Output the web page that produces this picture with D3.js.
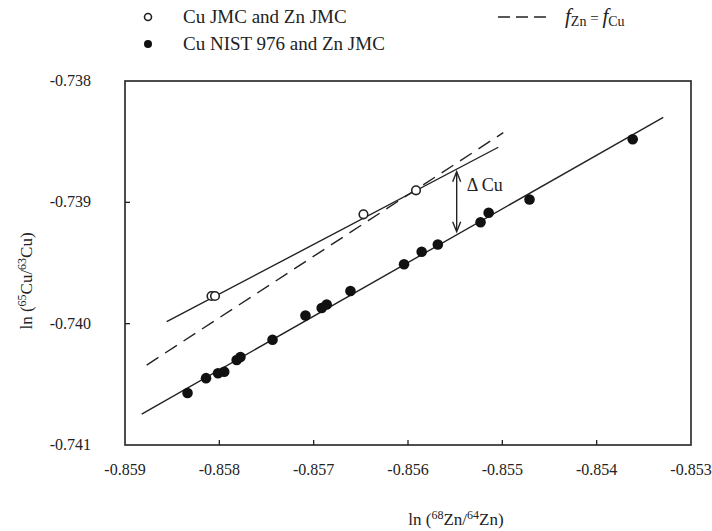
<!DOCTYPE html>
<html>
<head>
<meta charset="utf-8">
<script src="https://cdn.jsdelivr.net/npm/d3@7"></script>
<style>
  body { margin: 0; background: #fff; }
</style>
</head>
<body>
<script>
// Cu NIST 976 and Zn JMC (filled)
var nistX = [-0.858337, -0.858141, -0.858014, -0.857948, -0.857816, -0.857776, -0.857436, -0.857087,
             -0.856915, -0.856862, -0.85661, -0.856042, -0.855855, -0.855684, -0.855231, -0.855145,
             -0.854712, -0.853618];
var nistY = [-0.740571, -0.740449, -0.740409, -0.740396, -0.7403, -0.740275, -0.740132, -0.739933,
             -0.739871, -0.739842, -0.739731, -0.73951, -0.739407, -0.739348, -0.739164, -0.739086,
             -0.738977, -0.73848];

// Cu JMC and Zn JMC (open)
var jmcX = [-0.858083, -0.858046, -0.856472, -0.855915];
var jmcY = [-0.739772, -0.739772, -0.739099, -0.738901];

// fitted lines [x0, y0, x1, y1]
var fitNist = [-0.858823, -0.740745, -0.853294, -0.738299];
var fitJmc = [-0.858558, -0.739984, -0.855043, -0.738546];
var fEqual = [-0.85877, -0.740341, -0.85499, -0.738426];

// delta Cu arrow
var deltaX = -0.855484;
var deltaY = [-0.738748, -0.739242];

var xTicks = [-0.859, -0.858, -0.857, -0.856, -0.855, -0.854, -0.853];
var yTicks = [-0.738, -0.739, -0.740, -0.741];

var serif = "'Liberation Serif', 'DejaVu Serif', 'Noto Serif', 'Times New Roman', Times, Tinos, serif";
var width = 712, height = 531;
var svg = d3.select("body").append("svg")
    .attr("width", width)
    .attr("height", height)
    .style("font-family", serif);

var x = d3.scaleLinear().domain([-0.859, -0.853]).range([125, 691]);
var y = d3.scaleLinear().domain([-0.741, -0.738]).range([445, 81]);

// frame
svg.append("rect")
    .attr("x", x(-0.859)).attr("y", y(-0.738))
    .attr("width", x(-0.853) - x(-0.859))
    .attr("height", y(-0.741) - y(-0.738))
    .attr("fill", "none")
    .attr("stroke", "#222")
    .attr("stroke-width", 1.6);

// ticks, pointing inward
svg.append("g").selectAll("line")
    .data(xTicks.slice(1, -1))
    .enter().append("line")
    .attr("x1", d => x(d)).attr("x2", d => x(d))
    .attr("y1", y(-0.741)).attr("y2", y(-0.741) - 5)
    .attr("stroke", "#222").attr("stroke-width", 1.3);

svg.append("g").selectAll("line")
    .data(yTicks.slice(1, -1))
    .enter().append("line")
    .attr("x1", x(-0.859)).attr("x2", x(-0.859) + 5)
    .attr("y1", d => y(d)).attr("y2", d => y(d))
    .attr("stroke", "#222").attr("stroke-width", 1.3);

var fmt = d => d3.format(".3f")(d).replace("\u2212", "-");

svg.append("g").selectAll("text")
    .data(xTicks)
    .enter().append("text")
    .attr("x", d => x(d))
    .attr("y", y(-0.741) + 30)
    .attr("text-anchor", "middle")
    .style("font-family", serif)
    .attr("font-size", 16)
    .attr("fill", "#222")
    .text(fmt);

svg.append("g").selectAll("text")
    .data(yTicks)
    .enter().append("text")
    .attr("x", 91)
    .attr("y", d => y(d) + 5)
    .attr("text-anchor", "end")
    .style("font-family", serif)
    .attr("font-size", 16)
    .attr("fill", "#222")
    .text(fmt);

// axis titles
var xt = svg.append("text")
    .attr("x", 456).attr("y", 525)
    .attr("text-anchor", "middle")
    .style("font-family", serif)
    .attr("font-size", 17)
    .attr("fill", "#222");
xt.append("tspan").text("ln (");
xt.append("tspan").attr("font-size", 12).attr("dy", -6).text("68");
xt.append("tspan").attr("dy", 6).text("Zn/");
xt.append("tspan").attr("font-size", 12).attr("dy", -6).text("64");
xt.append("tspan").attr("dy", 6).text("Zn)");

var yt = svg.append("text")
    .attr("transform", "translate(32,281) rotate(-90)")
    .attr("text-anchor", "middle")
    .style("font-family", serif)
    .attr("font-size", 17)
    .attr("fill", "#222");
yt.append("tspan").text("ln (");
yt.append("tspan").attr("font-size", 12).attr("dy", -6).text("65");
yt.append("tspan").attr("dy", 6).text("Cu/");
yt.append("tspan").attr("font-size", 12).attr("dy", -6).text("63");
yt.append("tspan").attr("dy", 6).text("Cu)");

// lines
function seg(s, dash) {
    svg.append("line")
        .attr("x1", x(s[0])).attr("y1", y(s[1]))
        .attr("x2", x(s[2])).attr("y2", y(s[3]))
        .attr("stroke", "#222")
        .attr("stroke-width", 1.4)
        .attr("stroke-dasharray", dash || null);
}
seg(fEqual, "14,8");
seg(fitJmc);
seg(fitNist);

// points
svg.append("g").selectAll("circle")
    .data(nistX.map((d, i) => [d, nistY[i]]))
    .enter().append("circle")
    .attr("cx", d => x(d[0])).attr("cy", d => y(d[1]))
    .attr("r", 5.3)
    .attr("fill", "#111");

svg.append("g").selectAll("circle")
    .data(jmcX.map((d, i) => [d, jmcY[i]]))
    .enter().append("circle")
    .attr("cx", d => x(d[0])).attr("cy", d => y(d[1]))
    .attr("r", 4.3)
    .attr("fill", "#fff")
    .attr("stroke", "#222")
    .attr("stroke-width", 1.6);

// delta Cu arrow
var ax = x(deltaX), ay0 = y(deltaY[0]), ay1 = y(deltaY[1]);
svg.append("line")
    .attr("x1", ax).attr("x2", ax)
    .attr("y1", ay0 + 1).attr("y2", ay1 - 1)
    .attr("stroke", "#222").attr("stroke-width", 1.4);
svg.append("path")
    .attr("d", "M" + (ax - 4) + "," + (ay0 + 10) + "L" + ax + "," + ay0 + "L" + (ax + 4) + "," + (ay0 + 10))
    .attr("fill", "none").attr("stroke", "#222").attr("stroke-width", 1.4);
svg.append("path")
    .attr("d", "M" + (ax - 4) + "," + (ay1 - 10) + "L" + ax + "," + ay1 + "L" + (ax + 4) + "," + (ay1 - 10))
    .attr("fill", "none").attr("stroke", "#222").attr("stroke-width", 1.4);
svg.append("text")
    .attr("x", ax + 10).attr("y", ay0 + 19)
    .style("font-family", serif)
    .attr("font-size", 18)
    .attr("fill", "#222")
    .text("\u0394 Cu");

// legend
var leg = svg.append("g");
leg.append("circle").attr("cx", 148).attr("cy", 17).attr("r", 3.5)
    .attr("fill", "#fff").attr("stroke", "#222").attr("stroke-width", 1.6);
leg.append("text").attr("x", 183).attr("y", 23).style("font-family", serif)
    .attr("font-size", 19).attr("fill", "#222")
    .text("Cu JMC and Zn JMC");
leg.append("circle").attr("cx", 148).attr("cy", 44).attr("r", 4)
    .attr("fill", "#111");
leg.append("text").attr("x", 183).attr("y", 50).style("font-family", serif)
    .attr("font-size", 19).attr("fill", "#222")
    .text("Cu NIST 976 and Zn JMC");
leg.append("line").attr("x1", 498).attr("x2", 546).attr("y1", 17).attr("y2", 17)
    .attr("stroke", "#222").attr("stroke-width", 1.4).attr("stroke-dasharray", "12,6");
var ft = leg.append("text").attr("x", 565).attr("y", 23).style("font-family", serif)
    .attr("font-size", 21).attr("fill", "#222");
ft.append("tspan").attr("font-style", "italic").text("f");
ft.append("tspan").attr("font-size", 14).attr("dy", 3).text("Zn");
ft.append("tspan").attr("font-size", 15).attr("dy", -3).text(" = ");
ft.append("tspan").attr("font-style", "italic").text("f");
ft.append("tspan").attr("font-size", 14).attr("dy", 3).text("Cu");
</script>
</body>
</html>
